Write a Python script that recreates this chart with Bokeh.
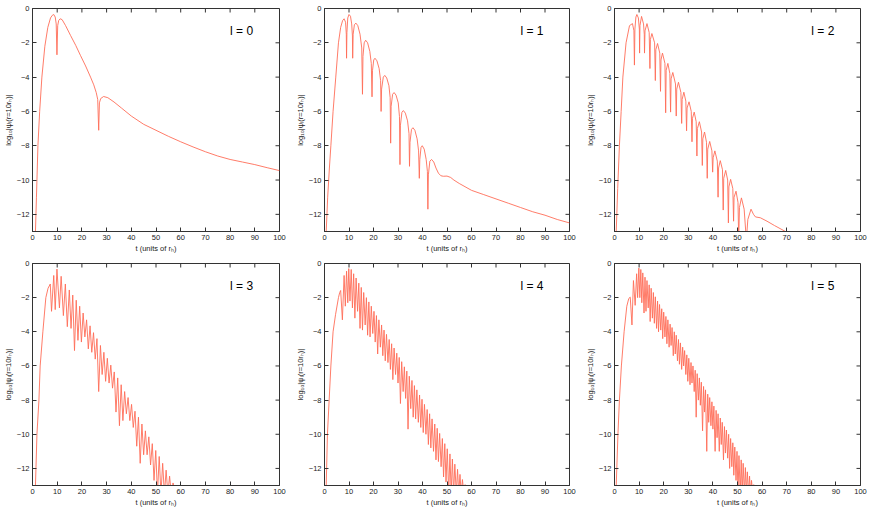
import math
from bokeh.plotting import figure
from bokeh.models import Range1d, FixedTicker, Label
from bokeh.layouts import column, row
from bokeh.embed import file_html
from bokeh.resources import INLINE

# ---------------- data ----------------
x_ticks = [0, 10, 20, 30, 40, 50, 60, 70, 80, 90, 100]
y_ticks = [-12, -10, -8, -6, -4, -2, 0]
panel_labels = ["l = 0", "l = 1", "l = 2", "l = 3", "l = 4", "l = 5"]

# l = 0
t0 = [1.2, 1.6, 2.2, 2.9, 3.8, 5.0, 6.2, 7.3, 8.0, 8.6, 9.2, 9.6, 9.9, 10.2, 10.6, 11.2, 12.0, 13.4,
      15.4, 17.5, 19.4, 21.5, 23.5, 24.8, 25.8, 26.4, 26.8, 27.1, 27.6, 28.8, 30.5, 33, 36, 40, 45,
      50, 55, 60, 65, 70, 75, 80, 85, 90, 95, 100]
y0 = [-13, -11, -8, -6, -4, -2.2, -1.1, -0.55, -0.4, -0.35, -0.5, -0.9, -2.7, -1.0, -0.7, -0.6, -0.65,
      -1.0, -1.57, -2.15, -2.73, -3.35, -4.0, -4.45, -4.9, -5.3, -7.1, -5.5, -5.25, -5.13, -5.2, -5.45,
      -5.8, -6.27, -6.75, -7.1, -7.45, -7.77, -8.07, -8.35, -8.6, -8.8, -8.95, -9.1, -9.28, -9.45]

# l = 1
t1 = [0.7, 1.3, 2.0, 2.6, 3.5, 4.6, 5.7, 6.6, 7.4, 8.0, 8.6, 8.9, 9.0, 9.15, 9.5, 10.0, 10.6, 11.1,
      11.4, 11.5, 11.7, 12.2, 12.8, 13.6, 14.5, 15.2, 15.5, 15.7, 16.2, 16.8, 17.6, 18.5, 19.1, 19.4,
      19.6, 20.1, 20.6, 21.4, 22.3, 22.9, 23.1, 23.3, 24.0, 24.6, 25.4, 26.3, 26.8, 27.0, 27.2, 27.8,
      28.4, 29.2, 30.1, 30.6, 30.8, 31.0, 31.6, 32.2, 33.0, 33.9, 34.5, 34.7, 34.9, 35.5, 36.1, 36.9,
      37.8, 38.4, 38.7, 38.9, 39.4, 39.9, 40.7, 41.5, 42.0, 42.2, 42.4, 43.0, 43.7, 44.6, 45.5, 46.5,
      47.5, 48.5, 50.0, 51.5, 52.8, 55, 60, 65, 70, 75, 80, 85, 90, 95, 100]
y1 = [-13, -11, -9.3, -8, -6, -4, -2, -1.1, -0.7, -0.6, -0.8, -1.5, -2.9, -1.4, -0.55, -0.35, -0.45,
      -0.9, -1.6, -2.9, -1.5, -0.95, -0.85, -1.0, -1.5, -2.3, -5.0, -2.8, -2.0, -1.85, -2.0, -2.5, -3.2,
      -5.15, -3.6, -3.0, -2.9, -3.05, -3.5, -4.2, -6.0, -4.7, -4.0, -3.9, -4.05, -4.5, -5.2, -7.85,
      -5.7, -5.0, -4.9, -5.05, -5.5, -6.3, -9.1, -6.8, -6.05, -5.95, -6.1, -6.55, -7.3, -9.2, -7.8,
      -7.05, -6.95, -7.1, -7.6, -8.3, -9.9, -8.8, -8.1, -8.0, -8.2, -8.8, -9.5, -11.7, -9.7, -8.9,
      -8.8, -8.95, -9.3, -9.6, -9.75, -9.78, -9.77, -9.85, -10.0, -10.2, -10.6, -10.85, -11.1,
      -11.35, -11.6, -11.85, -12.05, -12.3, -12.5]

# l = 2
t2 = [0.7, 1.3, 2.0, 2.7, 3.4, 4.7, 6.1, 7.3, 7.9, 8.1, 8.3, 8.7, 9.1, 9.7, 10.1, 10.2, 10.35, 11.0,
      11.8, 12.1, 12.2, 12.4, 13.2, 14.1, 14.4, 14.6, 15.2, 16.3, 16.6, 16.8, 17.5, 18.4, 18.7, 18.9,
      19.5, 20.5, 20.8, 21.0, 21.7, 22.5, 22.8, 23.0, 23.7, 24.8, 25.1, 25.3, 26.0, 27.0, 27.3, 27.5,
      28.2, 29.0, 29.3, 29.5, 30.3, 31.2, 31.5, 31.7, 32.4, 33.2, 33.5, 33.7, 34.5, 35.4, 35.7, 35.9,
      36.6, 37.4, 37.7, 37.9, 38.7, 39.6, 39.9, 40.1, 40.8, 41.8, 42.1, 42.3, 43.0, 43.9, 44.2, 44.4,
      45.2, 46.0, 46.3, 46.5, 47.2, 48.1, 48.4, 48.6, 49.4, 50.2, 50.5, 50.8, 51.6, 52.7, 53.6, 54.2,
      55.5, 56.5, 57.3, 59.3, 62, 65, 69.5]
y2 = [-13, -10.5, -8, -6, -4, -2, -1.0, -0.88, -1.3, -3.3, -1.2, -0.5, -0.35, -0.55, -1.2, -2.6, -1.0,
      -0.46, -0.9, -1.5, -2.6, -1.3, -0.88, -1.4, -3.5, -1.8, -1.46, -2.0, -4.2, -2.4, -2.04, -2.6,
      -4.83, -3.0, -2.6, -3.2, -6.08, -3.6, -3.2, -3.8, -6.04, -4.1, -3.73, -4.4, -6.27, -4.7, -4.3,
      -4.9, -6.7, -5.3, -4.88, -5.4, -7.13, -5.8, -5.44, -6.0, -7.77, -6.4, -6.04, -6.6, -8.6, -7.0,
      -6.6, -7.2, -9.15, -7.6, -7.2, -7.8, -9.9, -8.2, -7.75, -8.3, -9.54, -8.7, -8.3, -8.9, -11.0,
      -9.3, -8.87, -9.4, -11.75, -9.9, -9.44, -10.0, -12.5, -10.4, -9.96, -10.5, -12.4, -11.0, -10.65,
      -11.3, -13.5, -11.6, -11.04, -11.7, -13.5, -12.3, -11.7, -12.0, -12.15, -12.2, -12.4, -12.65,
      -13.0]

# l = 3 (rise, then alternating crests and spikes)
rise_t3 = [1.2, 1.4, 1.8, 2.6, 3.1, 4.2, 5.4, 6.3]
rise_y3 = [-13, -12, -10, -8, -6, -4, -2, -1.45]
peak_t3 = [7.2, 8.6, 9.9, 11.6, 13.3, 14.9, 16.3, 17.7, 19.1, 20.5, 21.9, 23.3, 24.7, 26.1, 27.5,
           28.9, 30.3, 31.7, 33.1, 34.5, 35.9, 37.3, 38.7, 40.1, 41.5, 42.9, 44.3, 45.7, 47.1, 48.5,
           49.9, 51.3, 52.7, 54.1, 55.5, 56.9]
peak_y3 = [-1.2, -0.7, -0.33, -0.75, -1.2, -1.55, -1.85, -2.15, -2.5, -2.9, -3.3, -3.65, -4.05, -4.4,
           -4.8, -5.2, -5.55, -5.95, -6.35, -6.7, -7.1, -7.5, -7.85, -8.25, -8.65, -9.0, -9.4, -9.8,
           -10.15, -10.55, -10.95, -11.3, -11.7, -12.1, -12.45, -12.85]
dip_t3 = [7.7, 9.2, 10.9, 12.5, 14.1, 15.6, 17.0, 18.4, 19.8, 21.2, 22.6, 24.0, 25.4, 26.8, 28.2,
          29.6, 31.0, 32.4, 33.8, 35.2, 36.6, 38.0, 39.4, 40.8, 42.2, 43.6, 45.0, 46.4, 47.8, 49.2,
          50.6, 52.0, 53.4, 54.8, 56.2]
dip_y3 = [-2.8, -2.7, -2.6, -3.05, -3.7, -3.8, -5.1, -4.5, -4.6, -4.3, -5.0, -5.2, -5.6, -7.5, -6.5,
          -6.9, -7.0, -7.3, -8.7, -9.5, -9.2, -8.8, -9.2, -9.6, -10.7, -11.7, -11.2, -11.2, -11.8,
          -12.7, -13.5, -13.5, -13.5, -13.5, -13.5]
tail_t3 = [57.5]
tail_y3 = [-13.2]

# l = 4
rise_t4 = [0.7, 1.2, 1.9, 2.6, 3.5, 4.5, 5.7, 6.2]
rise_y4 = [-13, -10, -8, -6, -4, -3, -2, -1.7]
peak_t4 = [6.6, 8.0, 9.0, 9.9, 10.9, 11.9, 12.9, 14.0, 15.0, 16.0, 17.1, 18.1, 19.1, 20.2, 21.2,
           22.2, 23.3, 24.3, 25.3, 26.4, 27.4, 28.4, 29.5, 30.5, 31.5, 32.6, 33.6, 34.6, 35.7, 36.7,
           37.7, 38.8, 39.8, 40.8, 41.9, 42.9, 43.9, 45.0, 46.0, 47.0, 48.1, 49.1, 50.1, 51.2, 52.2,
           53.2, 54.3, 55.3, 56.3, 57.4]
peak_y4 = [-1.58, -0.7, -0.45, -0.3, -0.35, -0.6, -0.85, -1.15, -1.4, -1.7, -2.0, -2.25, -2.5, -2.8,
           -3.05, -3.3, -3.6, -3.9, -4.15, -4.45, -4.7, -4.95, -5.25, -5.5, -5.75, -6.05, -6.3, -6.6,
           -6.85, -7.15, -7.4, -7.7, -7.95, -8.25, -8.55, -8.8, -9.1, -9.4, -9.65, -9.95, -10.25,
           -10.55, -10.85, -11.15, -11.45, -11.75, -12.05, -12.35, -12.65, -12.95]
dip_t4 = [7.3, 8.5, 9.5, 10.4, 11.4, 12.4, 13.5, 14.5, 15.5, 16.6, 17.6, 18.6, 19.7, 20.7, 21.7,
          22.8, 23.8, 24.8, 25.9, 26.9, 27.9, 29.0, 30.0, 31.0, 32.1, 33.1, 34.1, 35.2, 36.2, 37.2,
          38.3, 39.3, 40.3, 41.4, 42.4, 43.4, 44.5, 45.5, 46.5, 47.6, 48.6, 49.6, 50.7, 51.7, 52.7,
          53.8, 54.8, 55.8, 56.9]
dip_y4 = [-3.3, -2.5, -2.3, -2.2, -2.6, -3.2, -2.8, -3.8, -3.9, -3.6, -4.2, -4.3, -4.1, -4.6, -5.3,
          -4.9, -5.4, -5.7, -5.8, -6.2, -6.8, -6.5, -7.0, -8.2, -7.5, -7.9, -9.7, -8.5, -9.0, -9.1,
          -9.3, -9.6, -9.9, -10.0, -10.6, -10.8, -11.0, -11.5, -11.6, -11.9, -12.5, -12.8, -13.5,
          -13.5, -13.5, -13.5, -13.5, -13.5, -13.5]
tail_t4 = [57.6]
tail_y4 = [-13.2]

# l = 5
rise_t5 = [0.7, 1.4, 2.0, 2.8, 3.9, 5.0, 5.8]
rise_y5 = [-13, -10, -8, -6, -4, -2.5, -2.05]
peak_t5 = [6.4, 7.7, 9.0, 9.9, 10.7, 11.5, 12.4, 13.2, 14.1, 14.9, 15.8, 16.6, 17.5, 18.3, 19.2,
           20.0, 20.9, 21.7, 22.6, 23.4, 24.3, 25.1, 26.0, 26.8, 27.7, 28.5, 29.4, 30.2, 31.1, 31.9,
           32.8, 33.6, 34.5, 35.3, 36.2, 37.0, 37.9, 38.7, 39.6, 40.4, 41.3, 42.1, 43.0, 43.8, 44.7,
           45.5, 46.4, 47.2, 48.1, 48.9, 49.8, 50.6, 51.5, 52.3, 53.2, 54.0, 54.9, 55.7, 56.6, 57.4]
peak_y5 = [-1.97, -1.0, -0.6, -0.27, -0.35, -0.55, -0.8, -1.0, -1.25, -1.45, -1.7, -1.95, -2.2,
           -2.4, -2.65, -2.85, -3.1, -3.3, -3.55, -3.75, -4.0, -4.2, -4.45, -4.65, -4.9, -5.1, -5.35,
           -5.55, -5.8, -6.0, -6.25, -6.45, -6.7, -6.95, -7.2, -7.4, -7.65, -7.85, -8.1, -8.35, -8.6,
           -8.8, -9.05, -9.3, -9.55, -9.75, -10.0, -10.25, -10.5, -10.75, -11.0, -11.25, -11.5,
           -11.7, -11.95, -12.2, -12.45, -12.7, -12.95, -13.2]
dip_t5 = [7.1, 8.4, 9.4, 10.3, 11.1, 12.0, 12.8, 13.7, 14.5, 15.4, 16.2, 17.1, 17.9, 18.8, 19.6,
          20.5, 21.3, 22.2, 23.0, 23.9, 24.7, 25.6, 26.4, 27.3, 28.1, 29.0, 29.8, 30.7, 31.5, 32.4,
          33.2, 34.1, 34.9, 35.8, 36.6, 37.5, 38.3, 39.2, 40.0, 40.9, 41.7, 42.6, 43.4, 44.3, 45.1,
          46.0, 46.8, 47.7, 48.5, 49.4, 50.2, 51.1, 51.9, 52.8, 53.6, 54.5, 55.3, 56.2, 57.0]
dip_y5 = [-3.6, -2.45, -2.0, -2.0, -2.3, -2.9, -2.8, -2.6, -3.4, -3.2, -3.5, -3.8, -4.0, -3.9, -4.4,
          -4.3, -4.7, -4.9, -4.8, -5.4, -5.3, -5.7, -5.9, -6.2, -6.0, -6.5, -6.9, -7.1, -7.0, -7.5,
          -9.0, -8.0, -8.3, -9.8, -8.7, -11.0, -9.3, -9.5, -9.7, -11.0, -10.2, -11.0, -10.6, -11.5,
          -11.1, -11.4, -12.0, -11.9, -12.4, -12.7, -13.5, -13.5, -13.5, -13.5, -13.5, -13.5,
          -13.5, -13.5, -13.5]
tail_t5 = [57.6]
tail_y5 = [-13.3]


def combine(rise_t, rise_y, pk_t, pk_y, dp_t, dp_y, tl_t, tl_y):
    """Concatenate the read-off points into one polyline: crest, spike, crest, ..."""
    t, y = list(rise_t), list(rise_y)
    for i in range(len(pk_t)):
        t.append(pk_t[i]); y.append(pk_y[i])
        if i < len(dp_t) and i < len(dp_y):
            t.append(dp_t[i]); y.append(dp_y[i])
    t += list(tl_t); y += list(tl_y)
    return t, y


t3, y3 = combine(rise_t3, rise_y3, peak_t3, peak_y3, dip_t3, dip_y3, tail_t3, tail_y3)
t4, y4 = combine(rise_t4, rise_y4, peak_t4, peak_y4, dip_t4, dip_y4, tail_t4, tail_y4)
t5, y5 = combine(rise_t5, rise_y5, peak_t5, peak_y5, dip_t5, dip_y5, tail_t5, tail_y5)

series = [(t0, y0), (t1, y1), (t2, y2), (t3, y3), (t4, y4), (t5, y5)]

# ---------------- styling ----------------
LINE = "#ff6d58"
AX = "#333333"
FONT = "Liberation Sans"
row_h = [255, 254]
row_top = [8, 8]
row_bottom = [23, 22]
col_w = [290, 290, 292]
col_left = [32, 34, 34]
col_right = [11, 11, 12]


def make_panel(i):
    c, r = i % 3, i // 3
    p = figure(width=col_w[c], height=row_h[r],
               x_range=Range1d(0, 100), y_range=Range1d(-13, 0),
               output_backend="svg", toolbar_location=None,
               min_border_left=col_left[c], min_border_right=col_right[c],
               min_border_top=row_top[r], min_border_bottom=row_bottom[r])
    p.background_fill_color = "white"
    p.border_fill_color = "white"
    p.outline_line_color = AX
    p.outline_line_width = 1
    p.xgrid.visible = False
    p.ygrid.visible = False

    p.xaxis.ticker = FixedTicker(ticks=x_ticks)
    p.yaxis.ticker = FixedTicker(ticks=y_ticks)
    for ax in (p.xaxis[0], p.yaxis[0]):
        ax.major_tick_in = 4
        ax.major_tick_out = 0
        ax.minor_tick_line_color = None
        ax.axis_line_color = AX
        ax.major_tick_line_color = AX
        ax.major_label_text_font = FONT
        ax.major_label_text_font_size = "7.5px"
        ax.major_label_text_color = "#222222"
        ax.axis_label_text_font = FONT
        ax.axis_label_text_font_size = "7.5px"
        ax.axis_label_text_font_style = "normal"
        ax.axis_label_text_color = "#222222"
    p.xaxis.major_label_standoff = 3
    p.xaxis.axis_label_standoff = 1
    p.yaxis.major_label_standoff = 3
    p.yaxis.axis_label_standoff = 1
    p.xaxis.axis_label = "t (units of rₕ)"
    p.yaxis.axis_label = "log₁₀|ψₗ(r=10rₕ)|"

    # mirrored inward ticks on the top and right edges of the frame
    p.ray(x=x_ticks, y=[0] * len(x_ticks), length=4, length_units="screen",
          angle=-math.pi / 2, line_color=AX, line_width=1)
    p.ray(x=[100] * len(y_ticks), y=y_ticks, length=4, length_units="screen",
          angle=math.pi, line_color=AX, line_width=1)

    t, y = series[i]
    p.line(t, y, line_color=LINE, line_width=0.9)

    p.add_layout(Label(x=80, y=-1.33, text=panel_labels[i], text_font=FONT,
                       text_font_size="12px", text_baseline="middle", text_align="left",
                       text_color="#000000"))
    return p


panels = [make_panel(i) for i in range(6)]
layout = column(row(*panels[:3]), row(*panels[3:]))

open("out.html", "w").write(file_html(layout, INLINE))
